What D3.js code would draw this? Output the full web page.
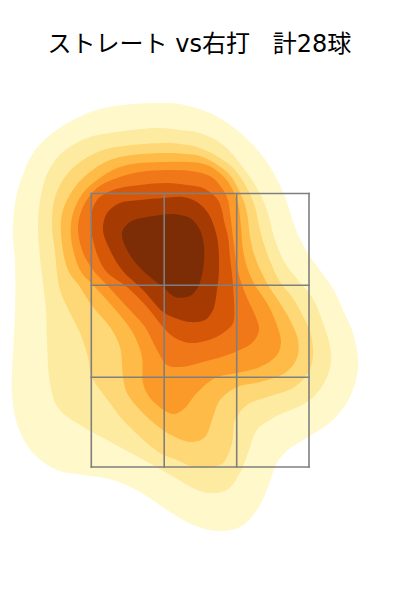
<!DOCTYPE html>
<html><head><meta charset="utf-8">
<script src="https://cdn.jsdelivr.net/npm/d3@7"></script>
<style>html,body{margin:0;padding:0;background:#fff}svg{display:block}</style>
</head><body><div id="chart"></div>
<script>
const titleText = "ストレート vs右打   計28球";
const zoneXs = [-1.087,-0.358,0.367,1.09];
const zoneYs = [4.065,3.147,2.227,1.33];
const levelColors = ["#fff8cb","#feeba2","#fed776","#febb47","#fc9a29","#f07819","#d65708","#a53b03","#7c2d06"];
const level1 = [[-0.40,4.97],[-0.67,4.96],[-1.00,4.91],[-1.27,4.80],[-1.50,4.65],[-1.67,4.47],[-1.78,4.23],[-1.85,3.97],[-1.87,3.67],[-1.85,3.37],[-1.85,2.90],[-1.87,2.47],[-1.88,2.07],[-1.82,1.73],[-1.67,1.47],[-1.43,1.30],[-1.17,1.25],[-0.87,1.20],[-0.60,1.08],[-0.33,0.90],[-0.07,0.75],[0.18,0.69],[0.40,0.73],[0.57,0.90],[0.68,1.13],[0.77,1.37],[0.88,1.50],[1.10,1.64],[1.33,1.80],[1.50,2.03],[1.58,2.33],[1.53,2.67],[1.43,2.90],[1.35,3.08],[1.25,3.23],[1.07,3.48],[0.95,3.73],[0.85,4.03],[0.72,4.30],[0.60,4.47],[0.37,4.70],[0.10,4.87],[-0.20,4.96]];
const level2 = [[-0.40,4.72],[-0.83,4.68],[-1.13,4.62],[-1.37,4.48],[-1.50,4.32],[-1.58,4.10],[-1.62,3.77],[-1.60,3.43],[-1.54,2.90],[-1.53,2.57],[-1.50,2.17],[-1.42,1.92],[-1.20,1.75],[-0.93,1.60],[-0.60,1.42],[-0.33,1.27],[-0.03,1.10],[0.10,1.07],[0.27,1.10],[0.40,1.27],[0.48,1.47],[0.57,1.70],[0.73,1.82],[1.10,2.00],[1.27,2.23],[1.31,2.47],[1.22,2.80],[1.12,3.03],[0.98,3.20],[0.85,3.37],[0.75,3.60],[0.67,3.90],[0.58,4.10],[0.45,4.30],[0.23,4.55],[0,4.67],[-0.20,4.70]];
const level3 = [[-0.33,4.57],[-0.67,4.55],[-0.97,4.50],[-1.20,4.38],[-1.35,4.23],[-1.45,4.03],[-1.48,3.77],[-1.45,3.47],[-1.40,3.10],[-1.30,2.87],[-1.20,2.67],[-1.12,2.43],[-1.08,2.23],[-0.90,1.97],[-0.77,1.80],[-0.40,1.47],[-0.23,1.40],[-0.07,1.33],[0.08,1.32],[0.23,1.37],[0.32,1.57],[0.35,1.80],[0.47,1.95],[0.67,2.03],[0.93,2.12],[1.08,2.27],[1.13,2.43],[1.11,2.65],[1.05,2.80],[0.92,3.03],[0.80,3.18],[0.67,3.47],[0.60,3.70],[0.55,3.93],[0.48,4.10],[0.35,4.30],[0.20,4.42],[-0.03,4.53],[-0.20,4.56]];
const level4 = [[-0.33,4.47],[-0.67,4.45],[-0.90,4.40],[-1.10,4.28],[-1.25,4.13],[-1.37,3.90],[-1.39,3.67],[-1.32,3.30],[-1.20,3.13],[-1.07,2.93],[-0.90,2.73],[-0.80,2.53],[-0.77,2.23],[-0.73,2.07],[-0.60,1.90],[-0.40,1.72],[-0.23,1.62],[-0.08,1.58],[0.05,1.63],[0.13,1.83],[0.20,2.00],[0.37,2.13],[0.60,2.18],[0.85,2.27],[0.97,2.42],[0.98,2.60],[0.90,2.80],[0.78,3.00],[0.68,3.15],[0.55,3.43],[0.50,3.63],[0.47,3.87],[0.42,4.03],[0.28,4.27],[0,4.44],[-0.15,4.46]];
const level5 = [[-0.33,4.38],[-0.60,4.37],[-0.83,4.32],[-1.03,4.20],[-1.17,4.07],[-1.27,3.87],[-1.29,3.63],[-1.20,3.30],[-1.07,3.15],[-0.87,2.93],[-0.67,2.67],[-0.58,2.43],[-0.57,2.17],[-0.50,2.02],[-0.33,1.88],[-0.25,1.86],[-0.15,1.92],[-0.05,2.05],[0.15,2.22],[0.37,2.27],[0.60,2.33],[0.77,2.45],[0.81,2.58],[0.75,2.80],[0.67,2.97],[0.55,3.15],[0.48,3.30],[0.43,3.50],[0.41,3.73],[0.37,4.00],[0.25,4.22],[0.07,4.35],[-0.10,4.38]];
const level6 = [[-0.33,4.30],[-0.60,4.28],[-0.83,4.22],[-1.03,4.12],[-1.17,3.93],[-1.22,3.73],[-1.18,3.50],[-1.07,3.30],[-0.95,3.17],[-0.73,2.93],[-0.55,2.73],[-0.43,2.50],[-0.33,2.35],[-0.20,2.33],[0.03,2.38],[0.33,2.47],[0.53,2.58],[0.59,2.70],[0.57,2.80],[0.48,3.00],[0.42,3.15],[0.37,3.33],[0.33,3.63],[0.30,3.87],[0.27,4.03],[0.13,4.22],[-0.03,4.28]];
const level7 = [[-0.33,4.17],[-0.60,4.15],[-0.87,4.10],[-1.03,4.00],[-1.09,3.83],[-1.07,3.60],[-0.95,3.30],[-0.73,3.13],[-0.53,2.93],[-0.37,2.73],[-0.25,2.62],[-0.10,2.57],[0.05,2.59],[0.20,2.65],[0.32,2.75],[0.34,2.80],[0.33,3.15],[0.30,3.43],[0.28,3.63],[0.25,3.75],[0.18,4.00],[0.03,4.12],[-0.13,4.15]];
const level8 = [[-0.37,4.02],[-0.60,4.00],[-0.80,3.97],[-0.93,3.87],[-0.97,3.70],[-0.90,3.50],[-0.78,3.30],[-0.57,3.10],[-0.37,2.88],[-0.25,2.82],[-0.10,2.78],[0.05,2.80],[0.13,2.90],[0.17,3.10],[0.19,3.30],[0.17,3.63],[0.08,3.87],[-0.03,3.98],[-0.17,4.03]];
const level9 = [[-0.27,3.86],[-0.53,3.83],[-0.70,3.78],[-0.78,3.67],[-0.73,3.50],[-0.58,3.30],[-0.37,3.13],[-0.25,3.03],[-0.10,3.04],[-0.02,3.13],[0.03,3.30],[0.04,3.53],[0,3.70],[-0.10,3.82],[-0.20,3.85]];
const levels = [level1,level2,level3,level4,level5,level6,level7,level8,level9];

const W=400,H=600;
const x=d3.scaleLinear().domain([-2,2]).range([0,W]);
const y=d3.scaleLinear().domain([0,6]).range([H,0]);
const svg=d3.select("#chart").append("svg").attr("width",W).attr("height",H);
const line=d3.line().x(d=>x(d[0])).y(d=>y(d[1])).curve(d3.curveCatmullRomClosed.alpha(0.5));
svg.append("g").selectAll("path").data(levels).join("path")
  .attr("d",line).attr("fill",(d,i)=>levelColors[i]).attr("stroke","none");
const grid=svg.append("g").attr("stroke","#7f7f7f").attr("stroke-width",1.6).attr("fill","none");
const yExt=d3.extent(zoneYs), xExt=d3.extent(zoneXs);
grid.selectAll(".v").data(zoneXs).join("line").attr("x1",d=>x(d)).attr("x2",d=>x(d)).attr("y1",y(yExt[1])).attr("y2",y(yExt[0])).attr("stroke-linecap","square");
grid.selectAll(".h").data(zoneYs).join("line").attr("y1",d=>y(d)).attr("y2",d=>y(d)).attr("x1",x(xExt[0])).attr("x2",x(xExt[1])).attr("stroke-linecap","square");
svg.append("text").attr("x",199.5).attr("y",52).attr("text-anchor","middle").attr("xml:space","preserve").style("white-space","pre")
  .attr("font-family","'DejaVu Sans','Noto Sans CJK JP',sans-serif").attr("font-size",24).attr("fill","#000").text(titleText);
</script></body></html>
